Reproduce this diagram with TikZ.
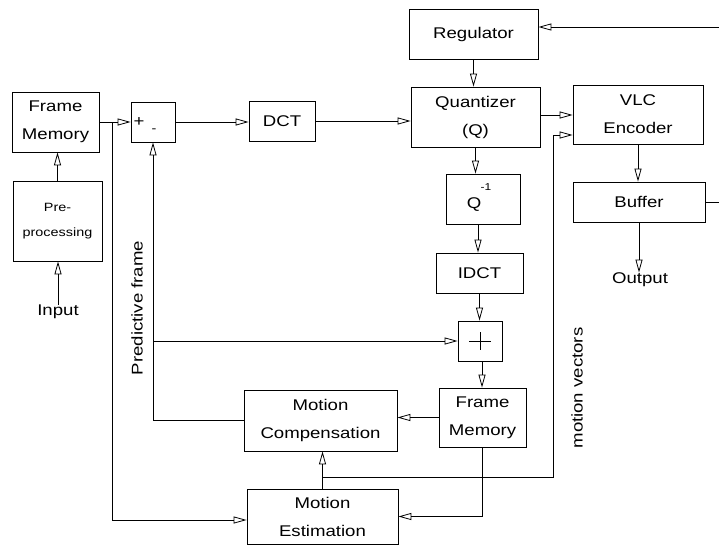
\documentclass[tikz,border=0pt]{standalone}
\usepackage{fontspec}
\setmainfont{Liberation Sans}[FakeStretch=1.2]
\usetikzlibrary{arrows.meta,calc}
\begin{document}
\begin{tikzpicture}[x=1pt,y=-1pt,
  line width=0.8pt,
  every node/.style={font=\fontsize{15.5}{28}\selectfont, inner sep=0pt},
  box/.style={draw, align=center},
  small/.style={font=\fontsize{12}{25}\selectfont},
  arr/.style={-{Triangle[open,length=13pt,width=7pt]}}]
\useasboundingbox (0,0) rectangle (719,546);
% boxes
\node[box, minimum width=87pt, minimum height=60pt] (fm1) at (55.5,122) {Frame\\Memory};
\node[box, small, minimum width=89pt, minimum height=80pt] (pre) at (57.5,221) {Pre-\\processing};
\node (input) at (58,312) {Input};
\node[box, minimum width=44pt, minimum height=40pt] (sub) at (153,122) {};
\node (plus) at (139,122) {+};
\node[small] (minus) at (154,131) {-};
\node[box, minimum width=66pt, minimum height=40pt] (dct) at (282,121) {DCT};
\node[box, minimum width=129pt, minimum height=50pt] (reg) at (473.5,34) {Regulator};
\node[box, minimum width=129pt, minimum height=60pt] (quant) at (475.5,117) {Quantizer\\(Q)};
\node[box, minimum width=130pt, minimum height=59pt] (vlc) at (638,114.5) {VLC\\Encoder};
\node[box, minimum width=74pt, minimum height=50pt] (qinv) at (483,199) {};
\node (qsym) at (474,205) {Q};
\node[font=\fontsize{10}{12}\selectfont] (qexp) at (486,187) {-1};
\node[box, minimum width=132pt, minimum height=40pt] (buffer) at (639,202) {Buffer};
\node (output) at (640,280) {Output};
\node[box, minimum width=87pt, minimum height=40pt] (idct) at (479.5,273) {IDCT};
\node[box, minimum width=44pt, minimum height=40pt] (adder) at (480,341) {};
\node[box, minimum width=87pt, minimum height=59pt] (fm2) at (482.5,417.5) {Frame\\Memory};
\node[box, minimum width=153pt, minimum height=61pt] (mc) at (320.5,420.5) {Motion\\Compensation};
\node[box, minimum width=151pt, minimum height=55pt] (me) at (322.5,516.5) {Motion\\Estimation};
\node[rotate=90] (pf) at (137,308) {Predictive frame};
\node[rotate=90] (mvl) at (577,388) {motion vectors};
% adder plus sign
\draw (adder.center) ++(-11,0) -- ++(22,0);
\draw (adder.center) ++(0,-9) -- ++(0,18);
% coordinates
\coordinate (b1) at ([xshift=13pt]fm1.east);
\coordinate (r1) at (719,27);
\coordinate (r2) at (719,201);
\coordinate (mv) at (553,477);
% connectors
\draw[arr] (input.north) -- (input.north |- pre.south);
\draw[arr] (pre.north) -- (pre.north |- fm1.south);
\draw[arr] (fm1.east) -- (sub.west);
\draw[arr] (b1) |- ([yshift=-3.5pt]me.west);
\draw[arr] (sub.east) -- (sub.east -| dct.west);
\draw[arr] (dct.east) -- (dct.east -| quant.west);
\draw[arr] (reg.south) -- (reg.south |- quant.north);
\draw[arr] (r1) -- (r1 -| reg.east);
\draw (buffer.east) -- (buffer.east -| r2);
\draw[arr] ([yshift=2pt]quant.east) -- ([yshift=2pt]quant.east -| vlc.west);
\draw[arr] (vlc.south) -- (vlc.south |- buffer.north);
\draw[arr] (buffer.south) -- (buffer.south |- output.north);
\draw[arr] (quant.south) -- (quant.south |- qinv.north);
\draw[arr] ([xshift=-5pt]qinv.south) -- ([xshift=-5pt]qinv.south |- idct.north);
\draw[arr] (idct.south) -- (idct.south |- adder.north);
\draw[arr] ([xshift=2pt]adder.south) -- ([xshift=2pt]adder.south |- fm2.north);
\draw[arr] (fm2.west) -- (fm2.west -| mc.east);
\draw[arr] (mc.west) -| (sub.south);
\draw[arr] (sub.south |- adder.west) -- (adder.west);
\draw[arr] (me.north) -- (me.north |- mc.south);
\draw[arr] (me.north |- mv) -- (mv) |- ([yshift=-20.5pt]vlc.west);
\draw[arr] (fm2.south) |- (me.east);
\end{tikzpicture}
\end{document}
